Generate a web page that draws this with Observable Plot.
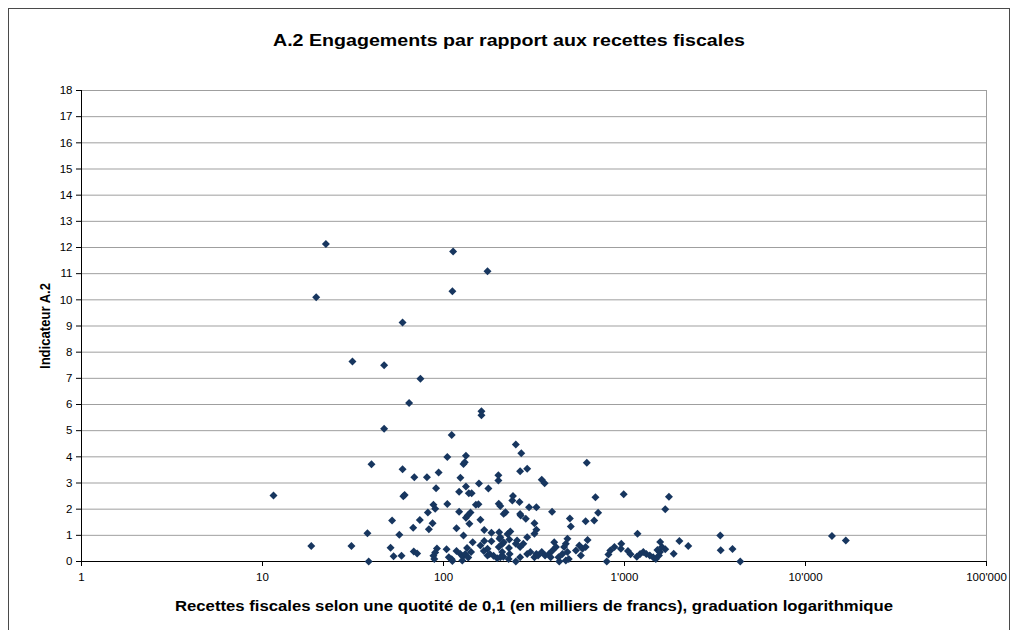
<!DOCTYPE html>
<html>
<head>
<meta charset="utf-8">
<script src="https://cdn.jsdelivr.net/npm/d3@7"></script>
<script src="https://cdn.jsdelivr.net/npm/@observablehq/plot@0.6"></script>
<style>
  html, body { margin: 0; padding: 0; background: #fff; }
  #wrap { position: relative; width: 1014px; height: 630px; overflow: hidden; background: #fff; }
  #border { position: absolute; left: 8px; top: 8px; width: 1002px; height: 700px; border: 1px solid #4a4a4a; box-sizing: border-box; pointer-events: none; }
  #chart { position: absolute; left: 0; top: 0; }
</style>
</head>
<body>
<div id="wrap"><div id="chart"></div><div id="border"></div></div>
<script>
const title = "A.2 Engagements par rapport aux recettes fiscales";
const xLabel = "Recettes fiscales selon une quotité de 0,1 (en milliers de francs), graduation logarithmique";
const yLabel = "Indicateur A.2";

const xTickValues = [1, 10, 100, 1000, 10000, 100000];
const xTickLabels = ["1", "10", "100", "1'000", "10'000", "100'000"];
const yTicks = [0,1,2,3,4,5,6,7,8,9,10,11,12,13,14,15,16,17,18];

// Recettes fiscales (milliers de francs)
const recettes = [
  11.5, 18.6, 19.8, 22.4, 31, 31.4, 38, 38.6, 40, 47,
  47, 51, 52, 53, 57, 58.6, 59.4, 59.4, 60, 61,
  64.6, 68, 68.5, 71.5, 69, 74.6, 74, 81, 82, 83,
  87, 88, 90, 91, 94, 92, 90, 88, 89, 104,
  105, 105, 107, 111, 112, 111, 112, 113, 118, 118,
  124, 127, 128, 122, 122, 124, 129, 131, 129, 133,
  133, 133, 136, 141, 139, 135, 142, 132, 137, 138,
  143, 145, 151, 156, 157, 160, 160, 162, 162, 168,
  167, 168, 175, 175, 175, 177, 180, 184, 184, 189,
  198, 201, 201, 202, 204, 202, 203, 206, 206, 206,
  212, 215, 215, 220, 231, 230, 232, 229, 211, 214,
  234, 226, 240, 242, 251, 251, 251, 255, 263, 265,
  265, 265, 265, 267, 269, 276, 285, 290, 290, 290,
  297, 302, 318, 318, 318, 326, 326, 326, 333, 349,
  349, 362, 364, 382, 391, 398, 400, 409, 418, 432,
  436, 454, 464, 474, 474, 484, 484, 492, 499, 505,
  539, 563, 574, 586, 610, 625, 610, 619, 680, 691,
  715, 798, 815, 835, 880, 955, 960, 990, 1045, 1080,
  1170, 1220, 1270, 1320, 1380, 1440, 1490, 1520, 1550, 1570,
  1610, 1180, 1575, 1680, 1680, 1760, 1870, 2010, 2250, 3380,
  3400, 3950, 4360, 14000, 16700
];
// Indicateur A.2
const indicateur = [
  2.52, 0.59, 10.1, 12.13, 0.59, 7.64, 1.08, 0, 3.72, 7.50,
  5.07, 0.53, 1.57, 0.20, 1.02, 0.22, 9.13, 3.53, 2.49, 2.54,
  6.06, 1.29, 0.38, 0.31, 3.22, 6.98, 1.59, 3.22, 1.87, 1.23,
  1.46, 2.17, 2.02, 2.80, 3.40, 0.50, 0.34, 0.22, 0.10, 0.47,
  3.99, 2.20, 0.16, 0.09, 0.02, 4.83, 10.33, 11.85, 1.27, 0.40,
  0.29, 0.04, 0.19, 2.67, 1.90, 3.20, 3.73, 3.79, 0.99, 4.04,
  2.87, 1.67, 1.76, 1.87, 1.44, 0.52, 0.36, 0.29, 0.15, 2.61,
  2.61, 0.74, 2.17, 2.19, 2.98, 1.60, 0.61, 5.74, 5.59, 0.78,
  0.40, 1.20, 11.09, 0.49, 0.23, 2.79, 0.29, 1.10, 0.77, 0.22,
  0.12, 3.30, 3.10, 2.21, 0.87, 0.55, 1.12, 2.12, 0.93, 0.16,
  0.68, 1.82, 0.74, 1.88, 0.84, 0.52, 0.29, 0.10, 0.36, 0.18,
  1.15, 1.05, 2.33, 2.50, 4.47, 0.68, 0, 0.80, 2.27, 1.82,
  3.45, 0.55, 0.16, 1.76, 4.14, 0.68, 1.63, 3.54, 0.93, 0.29,
  2.07, 0.36, 1.06, 0.16, 1.46, 1.21, 2.07, 0.29, 0.23, 3.12,
  0.36, 2.99, 0.23, 0.29, 0.16, 1.90, 0.42, 0.74, 0.55, 0.16,
  0, 0.29, 0.55, 0.68, 0.04, 0.87, 0.36, 0.10, 1.64, 1.34,
  0.42, 0.61, 0.23, 0.49, 0.55, 0.82, 1.54, 3.77, 1.57, 2.46,
  1.86, 0, 0.27, 0.42, 0.55, 0.49, 0.68, 2.57, 0.40, 0.28,
  0.18, 0.29, 0.36, 0.29, 0.23, 0.16, 0.10, 0.44, 0.23, 0.36,
  0.55, 1.06, 0.75, 0.47, 2.0, 2.47, 0.30, 0.78, 0.59, 0.99,
  0.43, 0.48, 0, 0.97, 0.80
];

const data = recettes.map((r, i) => ({recettes: r, indicateur: indicateur[i]}));

const font = "'Liberation Sans', Arial, Helvetica, sans-serif";

const chart = Plot.plot({
  width: 1014,
  height: 630,
  marginLeft: 81,
  marginRight: 28,
  marginTop: 90,
  marginBottom: 69,
  style: {background: "white", fontFamily: font, fontSize: "11.5px", color: "black", overflow: "visible"},
  x: {type: "log", domain: [1, 100000]},
  y: {domain: [0, 18]},
  marks: [
    Plot.gridY(yTicks, {stroke: "#9f9f9f", strokeOpacity: 1}),
    Plot.frame({stroke: "#9f9f9f"}),
    Plot.ruleX([1], {stroke: "black"}),
    Plot.ruleY([0], {stroke: "black"}),
    Plot.axisY({ticks: yTicks, tickSize: 5, tickPadding: 4, label: null, stroke: "black"}),
    Plot.axisX({ticks: xTickValues, tickFormat: d => xTickLabels[xTickValues.indexOf(d)], tickSize: 5, tickPadding: 6, label: null, stroke: "black"}),
    Plot.dot(data, {x: "recettes", y: "indicateur", symbol: "diamond2", r: 3.6, fill: "#17365f", stroke: null}),
    Plot.text([title], {frameAnchor: "top", dx: -25, dy: -50, lineAnchor: "middle", textAnchor: "middle", fontWeight: "bold", fontSize: 17}),
    Plot.text([xLabel], {frameAnchor: "bottom", dy: 45, lineAnchor: "middle", textAnchor: "middle", fontWeight: "bold", fontSize: 14}),
    Plot.text([yLabel], {frameAnchor: "left", dx: -36, rotate: -90, lineAnchor: "middle", textAnchor: "middle", fontWeight: "bold", fontSize: 14})
  ]
});
document.getElementById("chart").appendChild(chart);

// match the reference text widths
const widths = new Map([[title, 472], [xLabel, 718], [yLabel, 86]]);
chart.querySelectorAll("text").forEach(t => {
  const w = widths.get(t.textContent);
  if (w) { t.setAttribute("textLength", w); t.setAttribute("lengthAdjust", "spacingAndGlyphs"); }
});
</script>
</body>
</html>
